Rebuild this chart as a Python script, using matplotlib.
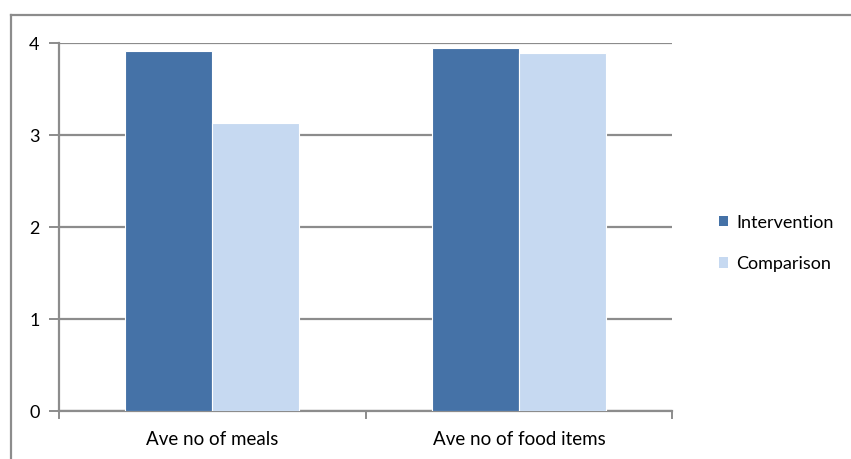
import matplotlib
matplotlib.use("Agg")
import matplotlib.pyplot as plt
from matplotlib.lines import Line2D
from matplotlib.patches import Patch
import numpy as np

categories = ["Ave no of meals", "Ave no of food items"]
series_names = ["Intervention", "Comparison"]
intervention = [3.92, 3.95]
comparison = [3.13, 3.89]
y_ticks = [0, 1, 2, 3, 4]

colors = ["#4572A7", "#C6D9F1"]
grid_color = "#8C8C8C"

plt.rcParams["font.family"] = ["Lato", "DejaVu Sans"]

fig = plt.figure(figsize=(8.51, 4.59), dpi=100)
ax = fig.add_axes([0.0693, 0.1039, 0.7207, 0.8018])

x = np.arange(len(categories))
width = 0.284
for i, vals in enumerate([intervention, comparison]):
    offs = (i - 0.5) * width
    ax.bar(x + offs, vals, width, color=colors[i], edgecolor="white",
           linewidth=0.8, zorder=3, label=series_names[i])

ax.set_xlim(-0.5, len(categories) - 0.5)
ax.set_ylim(0, 4)
ax.set_yticks(y_ticks)
ax.set_yticklabels([str(v) for v in y_ticks], fontsize=13)
ax.yaxis.grid(True, color=grid_color, linewidth=1.6, zorder=0)
ax.set_axisbelow(True)

ax.set_xticks(x)
ax.set_xticklabels(categories, fontsize=13.5)
ax.tick_params(axis="x", length=0, pad=14)
ax.tick_params(axis="y", length=7, color=grid_color, width=1.4, pad=7)
for v in [-0.5, 0.5, 1.5]:
    ax.plot([v, v], [0, -0.07], color=grid_color, lw=1.4, clip_on=False,
            transform=ax.transData, zorder=4)

for side in ["top", "right"]:
    ax.spines[side].set_visible(False)
for side in ["left", "bottom"]:
    ax.spines[side].set_color(grid_color)
    ax.spines[side].set_linewidth(1.6)

handles = [Patch(facecolor=c, edgecolor="none") for c in colors]
leg = fig.legend(handles, series_names, loc="center left",
                 bbox_to_anchor=(0.826, 0.47), frameon=False, fontsize=13,
                 handlelength=0.5, handleheight=0.5, handletextpad=0.45,
                 labelspacing=1.4)

# chart area border
fig.add_artist(Line2D([11.3 / 851, 11.3 / 851], [0, 1 - 14.7 / 459],
                      color="#8C8C8C", lw=1.6, transform=fig.transFigure))
fig.add_artist(Line2D([11.3 / 851, 1], [1 - 14.7 / 459, 1 - 14.7 / 459],
                      color="#8C8C8C", lw=1.6, transform=fig.transFigure))

fig.savefig("out.png", dpi=100)
